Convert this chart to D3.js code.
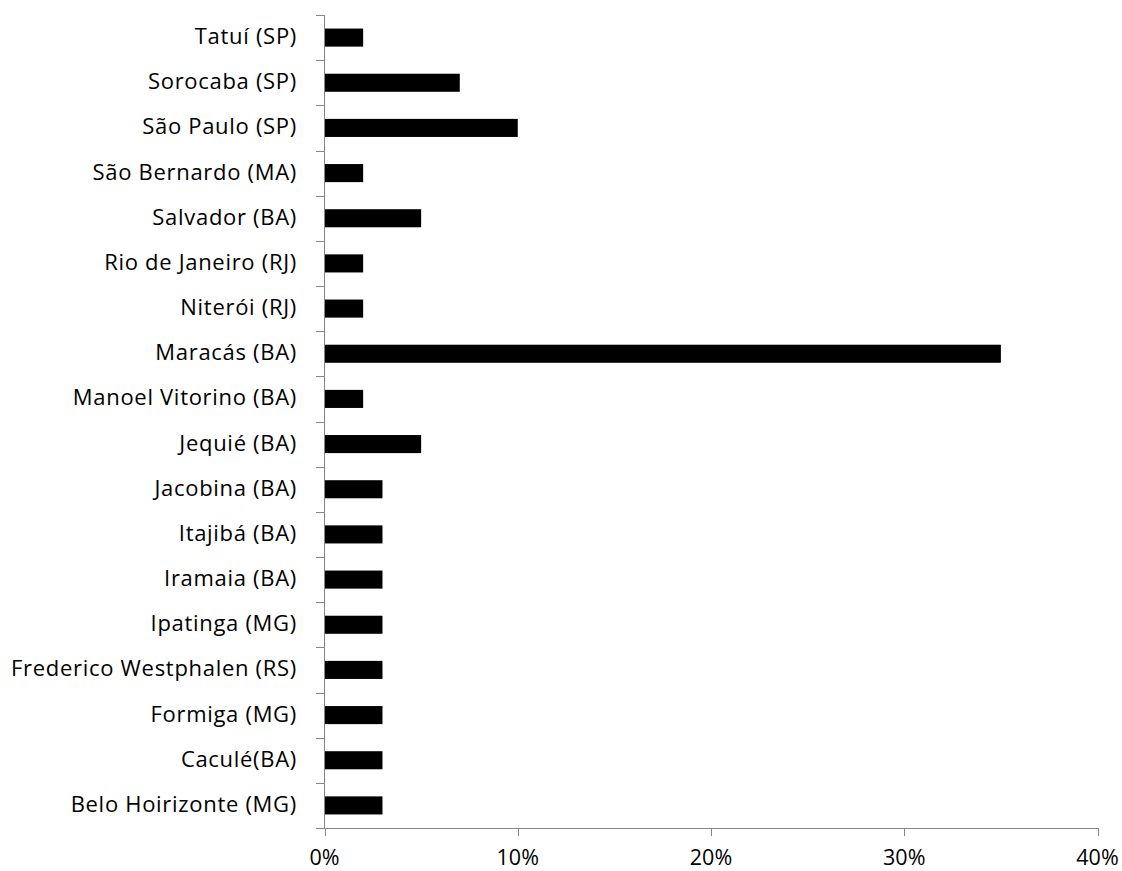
<!DOCTYPE html>
<html><head><meta charset="utf-8">
<script src="https://cdn.jsdelivr.net/npm/d3@7"></script>
<style>body{margin:0;background:#fff}svg{display:block}text{font-family:"Open Sans",sans-serif;fill:#000}</style>
</head><body>
<script>
const categories = ["Tatuí (SP)","Sorocaba (SP)","São Paulo (SP)","São Bernardo (MA)","Salvador (BA)","Rio de Janeiro (RJ)","Niterói (RJ)","Maracás (BA)","Manoel Vitorino (BA)","Jequié (BA)","Jacobina (BA)","Itajibá (BA)","Iramaia (BA)","Ipatinga (MG)","Frederico Westphalen (RS)","Formiga (MG)","Caculé(BA)","Belo Hoirizonte (MG)"];
const values = [0.02,0.07,0.10,0.02,0.05,0.02,0.02,0.35,0.02,0.05,0.03,0.03,0.03,0.03,0.03,0.03,0.03,0.03];
const xTicks = [0,0.1,0.2,0.3,0.4];

const W=1122,H=871;
const svg=d3.select("body").append("svg").attr("width",W).attr("height",H);
const x=d3.scaleLinear().domain([0,0.4]).range([324.5,1097.5]);
const y=d3.scaleBand().domain(categories).range([15,828]).paddingInner(0.6).paddingOuter(0.3);
const band=(828-15)/categories.length;
const grey="#868686";

svg.append("g").selectAll("rect").data(values).join("rect")
  .attr("x",x(0)).attr("y",(d,i)=>y(categories[i]))
  .attr("width",d=>x(d)-x(0)).attr("height",y.bandwidth()).attr("fill","#000");

const ya=svg.append("g");
ya.append("line").attr("x1",324.5).attr("x2",324.5).attr("y1",15).attr("y2",828).attr("stroke",grey);
d3.range(categories.length+1).forEach(i=>{
  const yy=Math.round(15+i*band)+0.5;
  ya.append("line").attr("x1",316).attr("x2",324.5).attr("y1",yy).attr("y2",yy).attr("stroke",grey);
});
ya.selectAll("text").data(categories).join("text")
  .attr("x",297).attr("y",d=>y(d)+y.bandwidth()/2+6.5)
  .attr("text-anchor","end").attr("font-size",22).attr("letter-spacing","0.7px").text(d=>d);

const xa=svg.append("g");
xa.append("line").attr("x1",324).attr("x2",1098).attr("y1",828.5).attr("y2",828.5).attr("stroke",grey);
xa.selectAll("line.t").data(xTicks).join("line").attr("class","t")
  .attr("x1",d=>Math.round(x(d))+0.5).attr("x2",d=>Math.round(x(d))+0.5).attr("y1",828).attr("y2",836).attr("stroke",grey);
xa.selectAll("text").data(xTicks).join("text")
  .attr("x",d=>x(d)).attr("y",864.5).attr("text-anchor","middle").attr("font-size",21.5)
  .text(d=>d3.format(".0%")(d));
</script>
</body></html>
